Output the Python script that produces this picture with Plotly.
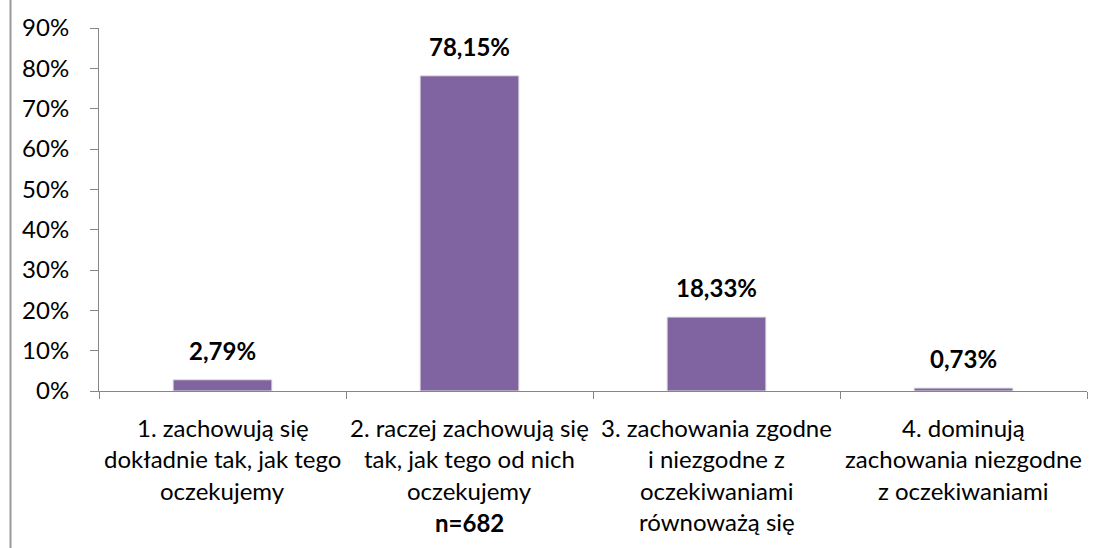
import plotly.graph_objects as go

categories = ["c1", "c2", "c3", "c4"]
category_lines = [
    ["1. zachowują się", "dokładnie tak, jak tego", "oczekujemy"],
    ["2. raczej zachowują się", "tak, jak tego od nich", "oczekujemy"],
    ["3. zachowania zgodne", "i niezgodne z", "oczekiwaniami", "równoważą się"],
    ["4. dominują", "zachowania niezgodne", "z oczekiwaniami"],
]
values = [2.79, 78.15, 18.33, 0.73]
y_ticks = [0, 10, 20, 30, 40, 50, 60, 70, 80, 90]
y_tick_labels = ["0%", "10%", "20%", "30%", "40%", "50%", "60%", "70%", "80%", "90%"]
note = "n=682"

W, H = 1107, 548
ML, MR, MT, MB = 99, 20, 23, 157
FONT = "Lato"
FS = 24
AXIS_COLOR = "#868686"

fig = go.Figure(go.Bar(
    x=categories, y=values, width=0.4,
    marker=dict(color="#8064A2", line=dict(color="#e0e0e0", width=1)),
    hoverinfo="skip",
))

annotations = []
for cat, v in zip(categories, values):
    annotations.append(dict(
        x=cat, y=v, xref="x", yref="y", yanchor="bottom", yshift=13,
        text="<b>" + f"{v:.2f}".replace(".", ",") + "%</b>",
        showarrow=False, font=dict(family=FONT, size=24, color="#000"),
    ))
for cat, lines in zip(categories, category_lines):
    for i, line in enumerate(lines):
        annotations.append(dict(
            x=cat, y=0, xref="x", yref="paper", yanchor="middle",
            yshift=-36 - 31.5 * i, text=line, showarrow=False,
            font=dict(family=FONT, size=FS, color="#000"),
        ))
annotations.append(dict(
    x=categories[1], y=0, xref="x", yref="paper", yanchor="middle",
    yshift=-36 - 31.5 * 3 - 1, text="<b>" + note + "</b>", showarrow=False,
    font=dict(family=FONT, size=FS, color="#000"),
))

plot_w = W - ML - MR
fig.update_layout(
    width=W, height=H,
    margin=dict(l=ML, r=MR, t=MT, b=MB),
    paper_bgcolor="white", plot_bgcolor="white",
    showlegend=False,
    font=dict(family=FONT, size=FS, color="#000"),
    annotations=annotations,
    shapes=[dict(type="line", xref="paper", yref="paper",
                 x0=(10.5 - ML) / plot_w, x1=(10.5 - ML) / plot_w,
                 y0=-1, y1=2, line=dict(color="#999999", width=2))],
    xaxis=dict(
        type="category", showticklabels=False, showgrid=False,
        showline=True, linecolor=AXIS_COLOR, linewidth=1,
        ticks="outside", tickson="boundaries", ticklen=7, tickcolor=AXIS_COLOR,
        range=[-0.5, 3.5], fixedrange=True,
    ),
    yaxis=dict(
        range=[0, 90], tickvals=y_ticks, ticktext=y_tick_labels, showgrid=False,
        zeroline=False, showline=True, linecolor=AXIS_COLOR, linewidth=1,
        ticks="outside", ticklen=8, tickcolor=AXIS_COLOR, ticklabelstandoff=16,
        tickfont=dict(family=FONT, size=FS, color="#000"), fixedrange=True,
    ),
)

fig.write_html(
    "out.html",
    config={"displayModeBar": False, "staticPlot": True},
    post_script="document.body.style.margin='0';document.body.style.overflow='hidden';",
)
